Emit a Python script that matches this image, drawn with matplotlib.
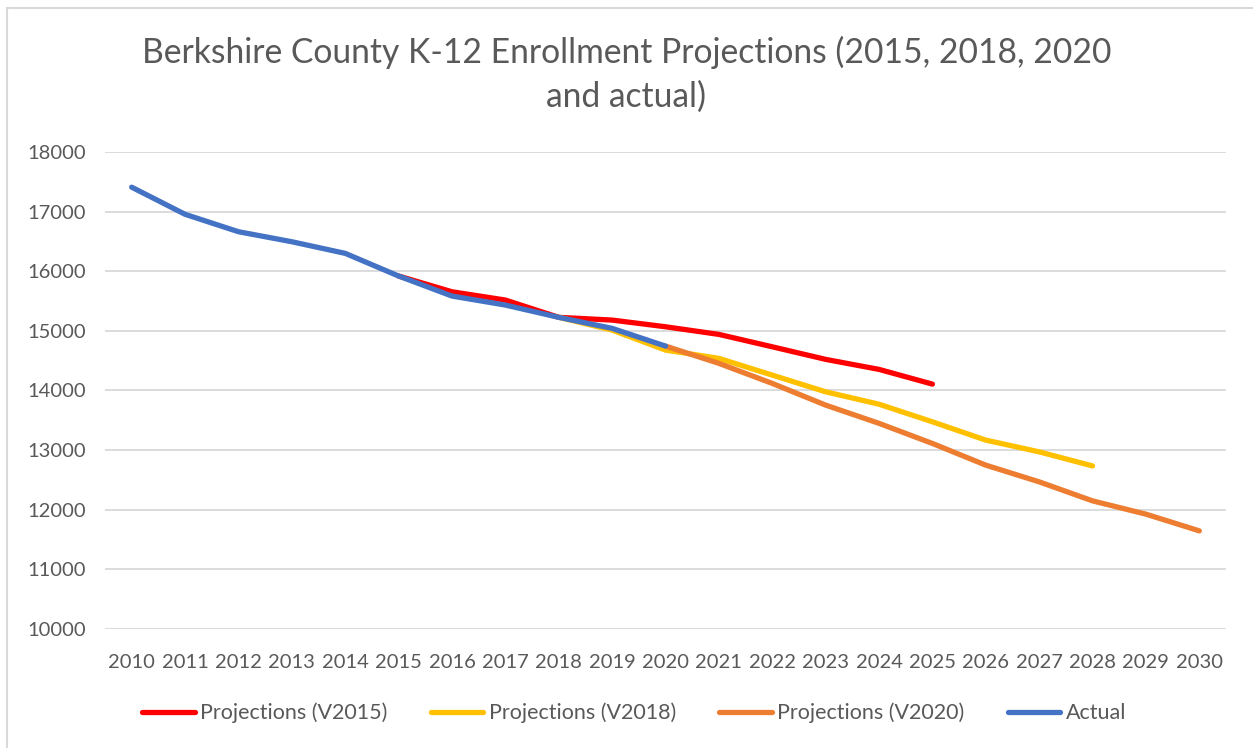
import matplotlib.pyplot as plt
import matplotlib.patches as mpatches

plt.rcParams['font.family'] = ['Lato', 'DejaVu Sans']

# data
years = list(range(2010, 2031))

v2015_years = [2015, 2016, 2017, 2018, 2019, 2020, 2021, 2022, 2023, 2024, 2025]
v2015 = [15920, 15656, 15517, 15227, 15181, 15069, 14941, 14733, 14522, 14354, 14107]

v2018_years = [2018, 2019, 2020, 2021, 2022, 2023, 2024, 2025, 2026, 2027, 2028]
v2018 = [15227, 15013, 14678, 14539, 14258, 13978, 13770, 13475, 13168, 12971, 12735]

v2020_years = [2020, 2021, 2022, 2023, 2024, 2025, 2026, 2027, 2028, 2029, 2030]
v2020 = [14745, 14455, 14119, 13755, 13449, 13112, 12748, 12468, 12149, 11926, 11646]

actual_years = [2010, 2011, 2012, 2013, 2014, 2015, 2016, 2017, 2018, 2019, 2020]
actual = [17410, 16955, 16663, 16495, 16300, 15920, 15584, 15433, 15227, 15042, 14745]

series = [
    ('Projections (V2015)', v2015_years, v2015, '#FF0000'),
    ('Projections (V2018)', v2018_years, v2018, '#FFC000'),
    ('Projections (V2020)', v2020_years, v2020, '#ED7D31'),
    ('Actual', actual_years, actual, '#4472C4'),
]

W, H = 1253, 748
fig = plt.figure(figsize=(W / 100, H / 100), dpi=100)
ax = fig.add_axes([105 / W, 1 - 629 / H, (1226 - 105) / W, (629 - 152) / H])

# light grey chart border (top and left edges visible)
fig.patches.append(mpatches.Rectangle((7 / W, -0.05), 1.2, 1 - 8 / H + 0.05,
                                      transform=fig.transFigure, fill=False,
                                      edgecolor='#D9D9D9', linewidth=1.5))

for name, xs, ys, c in series:
    ax.plot(xs, ys, color=c, linewidth=3.8, solid_capstyle='round',
            solid_joinstyle='round', label=name)

ax.set_xlim(2009.5, 2030.5)
ax.set_ylim(10000, 18000)
ax.set_xticks(years)
ax.set_xticklabels([str(y) for y in years])
ax.set_yticks(range(10000, 18001, 1000))
ax.grid(axis='y', color='#D9D9D9', linewidth=1.3)
ax.set_axisbelow(True)
for s in ax.spines.values():
    s.set_visible(False)
ax.tick_params(axis='both', length=0, labelsize=14.5, colors='#595959')
ax.tick_params(axis='y', pad=14)
ax.tick_params(axis='x', pad=18)

fig.text(0.5, 1 - 74 / H, 'Berkshire County K-12 Enrollment Projections (2015, 2018, 2020\nand actual)',
         ha='center', va='center', fontsize=24.2, color='#595959', linespacing=1.45)

ax.legend(loc='center', bbox_to_anchor=(0.472, -0.176), ncol=4, frameon=False,
          fontsize=15.5, labelcolor='#595959', handlelength=2.45, handletextpad=0.25,
          columnspacing=2.0)

fig.savefig('out.png', dpi=100, facecolor='white')
